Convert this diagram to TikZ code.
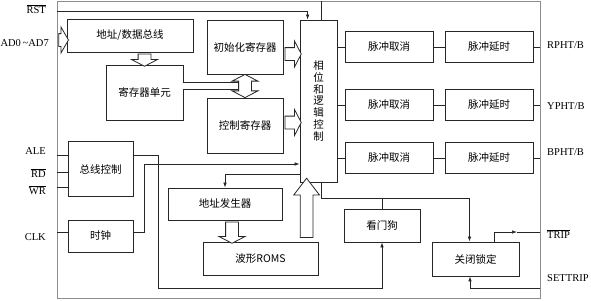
\documentclass[tikz,border=0pt]{standalone}
\usepackage{fontspec}
\setmainfont{Liberation Serif}
\newfontfamily\cjk{Noto Sans CJK SC}
\usetikzlibrary{arrows.meta,positioning,calc,shapes.arrows}

\newcommand{\busarrow}[3][]{%
  \path let \p1=(#2), \p2=(#3), \p3=($(\p1)!0.5!(\p2)$),
    \n1={atan2(\y2-\y1,\x2-\x1)}, \n2={veclen(\x2-\x1,\y2-\y1)} in
    node[fatarrow,#1,minimum height=\n2,rotate=\n1] at (\p3) {};}

\begin{document}
\begin{tikzpicture}[x=1pt,y=-1pt,>={Latex[length=5pt,width=3.5pt]},
  blk/.style={draw=black!85,line width=0.8pt,inner sep=0pt,font=\cjk\fontsize{10.5}{12}\selectfont},
  pin/.style={inner sep=1pt,font=\fontsize{10.5}{12}\selectfont},
  wire/.style={draw=black!85,line width=0.7pt},
  fatarrow/.style={draw=black!85,line width=0.8pt,fill=white,single arrow,
    inner xsep=0pt,inner ysep=6pt,single arrow head extend=6.5pt,double arrow head extend=6.5pt,
    single arrow tip angle=125,double arrow tip angle=125}]
  \useasboundingbox (0,0) rectangle (591,300);
  % chip outline
  \node[draw=black!45,line width=0.8pt,minimum width=483pt,minimum height=297pt,inner sep=0pt] (chip) at (298.5,149.5) {};

  % blocks
  \node[blk,minimum width=126pt,minimum height=33pt] (bus) at (130,35.5) {地址/数据总线};
  \node[blk,minimum width=77pt,minimum height=55pt] (reg) at (144.5,92.5) {寄存器单元};
  \node[blk,minimum width=76pt,minimum height=54pt] (init) at (245,47) {初始化寄存器};
  \node[blk,minimum width=76pt,minimum height=55pt] (ctrl) at (245,125.5) {控制寄存器};
  \node[blk,minimum width=37pt,minimum height=162pt,align=center,font=\cjk\fontsize{10.5}{11.7}\selectfont] (logic) at (318.5,101) {相\\位\\和\\逻\\辑\\控\\制};
  \node[blk,minimum width=65pt,minimum height=55pt] (buscon) at (100.5,169) {总线控制};
  \node[blk,minimum width=65pt,minimum height=32pt] (clk) at (100.5,236) {时钟};
  \node[blk,minimum width=114pt,minimum height=32pt] (addr) at (225,204) {地址发生器};
  \node[blk,minimum width=115pt,minimum height=33pt] (roms) at (260.5,258.5) {波形ROMS};
  \node[blk,minimum width=76pt,minimum height=33pt] (dog) at (382,225.5) {看门狗};
  \node[blk,minimum width=87pt,minimum height=34pt] (lock) at (475.5,259) {关闭锁定};

  % output channels
  \foreach \i/\y/\ly/\name in {1/47/45/{RPHT/B},2/105/106/{YPHT/B},3/158/152/{BPHT/B}} {
    \node[blk,minimum width=88pt,minimum height=31pt] (cancel\i) at (389,\y) {脉冲取消};
    \node[blk,minimum width=88pt,minimum height=31pt] (delay\i) at (489,\y) {脉冲延时};
    \draw[wire] (logic.east |- cancel\i.west) -- (cancel\i.west);
    \draw[wire] (cancel\i) -- (delay\i);
    \draw[wire] (delay\i) -- (delay\i -| chip.east);
    \node[pin,anchor=west] (out\i) at (546,\ly) {\name};
  }

  % reset
  \node[pin,anchor=east] (rstl) at (47,9) {$\overline{\mbox{RST}}$};
  \coordinate (rstin) at (57,11);
  \draw[wire,->] (rstin) -| ($(logic.north west)+(8,0)$);
  \coordinate (lt) at ($(logic.north)+(2.5,0)$);
  \draw[wire] (lt) -- (lt |- chip.north);

  % data bus
  \node[pin,anchor=east] (adl) at (50,43) {AD0\,\textasciitilde AD7};
  \coordinate (adin) at (57,40);
  \busarrow[single arrow tip angle=120]{adin}{adin -| bus.west}
  \coordinate (br) at (reg.north |- bus.south);
  \busarrow{br}{reg.north}
  \coordinate (dbl) at ($(init.south)!0.5!(ctrl.north)$);
  \draw[line width=0.8pt,draw=black!85,double,double distance=6pt] (reg.east |- dbl) -- (dbl);
  \busarrow[double arrow]{init.south}{ctrl.north}
  \coordinate (ia) at ($(init.east)+(0,7)$);
  \busarrow{ia}{ia -| logic.west}
  \coordinate (ca) at ($(ctrl.east)+(0,-3)$);
  \busarrow{ca}{ca -| logic.west}

  % bus control inputs
  \foreach \y/\ly/\txt in {155/151/ALE,172/173/{$\overline{\mbox{RD}}$},187/190/{$\overline{\mbox{WR}}$}} {
    \coordinate (in\y) at (57,\y);
    \node[pin,anchor=east] (lbl\y) at (47,\ly) {\txt};
    \draw[wire] (in\y) -- (in\y -| buscon.west);
  }
  \coordinate (clkin) at (57,232);
  \node[pin,anchor=east] (clkl) at (47,237) {CLK};
  \draw[wire] (clkin) -- (clkin -| clk.west);

  % bus control to watchdog
  \coordinate (bcout) at ($(buscon.east)+(0,-14)$);
  \coordinate (bcdn) at (158,288);
  \draw[wire,->] (bcout) -| (bcdn) -| (dog.south);

  % clock to logic
  \coordinate (ckout) at ($(clk.east)+(0,-4)$);
  \draw[wire,->] (ckout) -- ++(11,0) |- ($(logic.west)+(0,63)$);

  % logic to address generator, ROM back to logic
  \draw[wire,->] ($(logic.south west)+(0,-8)$) -| (addr.north);
  \coordinate (ag) at ($(addr.south)+(7,0)$);
  \busarrow{ag}{ag |- roms.north}
  \coordinate (rl) at ($(logic.south west)+(7,0)$);
  \busarrow[single arrow tip angle=75]{rl |- roms.north}{rl}

  % logic and watchdog to shutdown latch
  \coordinate (lb) at ($(logic.south)+(2.5,0)$);
  \draw[wire,->] (lb) -- ++(0,16) -| ($(lock.north)+(-6,0)$);
  \draw[wire] (dog.north) -- ++(0,-11);

  % trip output
  \coordinate (tripTip) at (517,232);
  \coordinate (tripOut) at (tripTip -| chip.east);
  \draw[wire,->] ($(lock.north)+(18.5,0)$) |- (tripTip);
  \draw[wire] (tripTip) -- (tripOut);
  \node[pin,anchor=west] (tripl) at (546,234) {$\overline{\mbox{TRIP}}$};

  % settrip input
  \coordinate (setin) at (chip.east |- 0,288);
  \draw[wire,->] (setin) -| ($(lock.south)+(-5.5,0)$);
  \node[pin,anchor=west] (setl) at (546,278) {SETTRIP};
\end{tikzpicture}
\end{document}
